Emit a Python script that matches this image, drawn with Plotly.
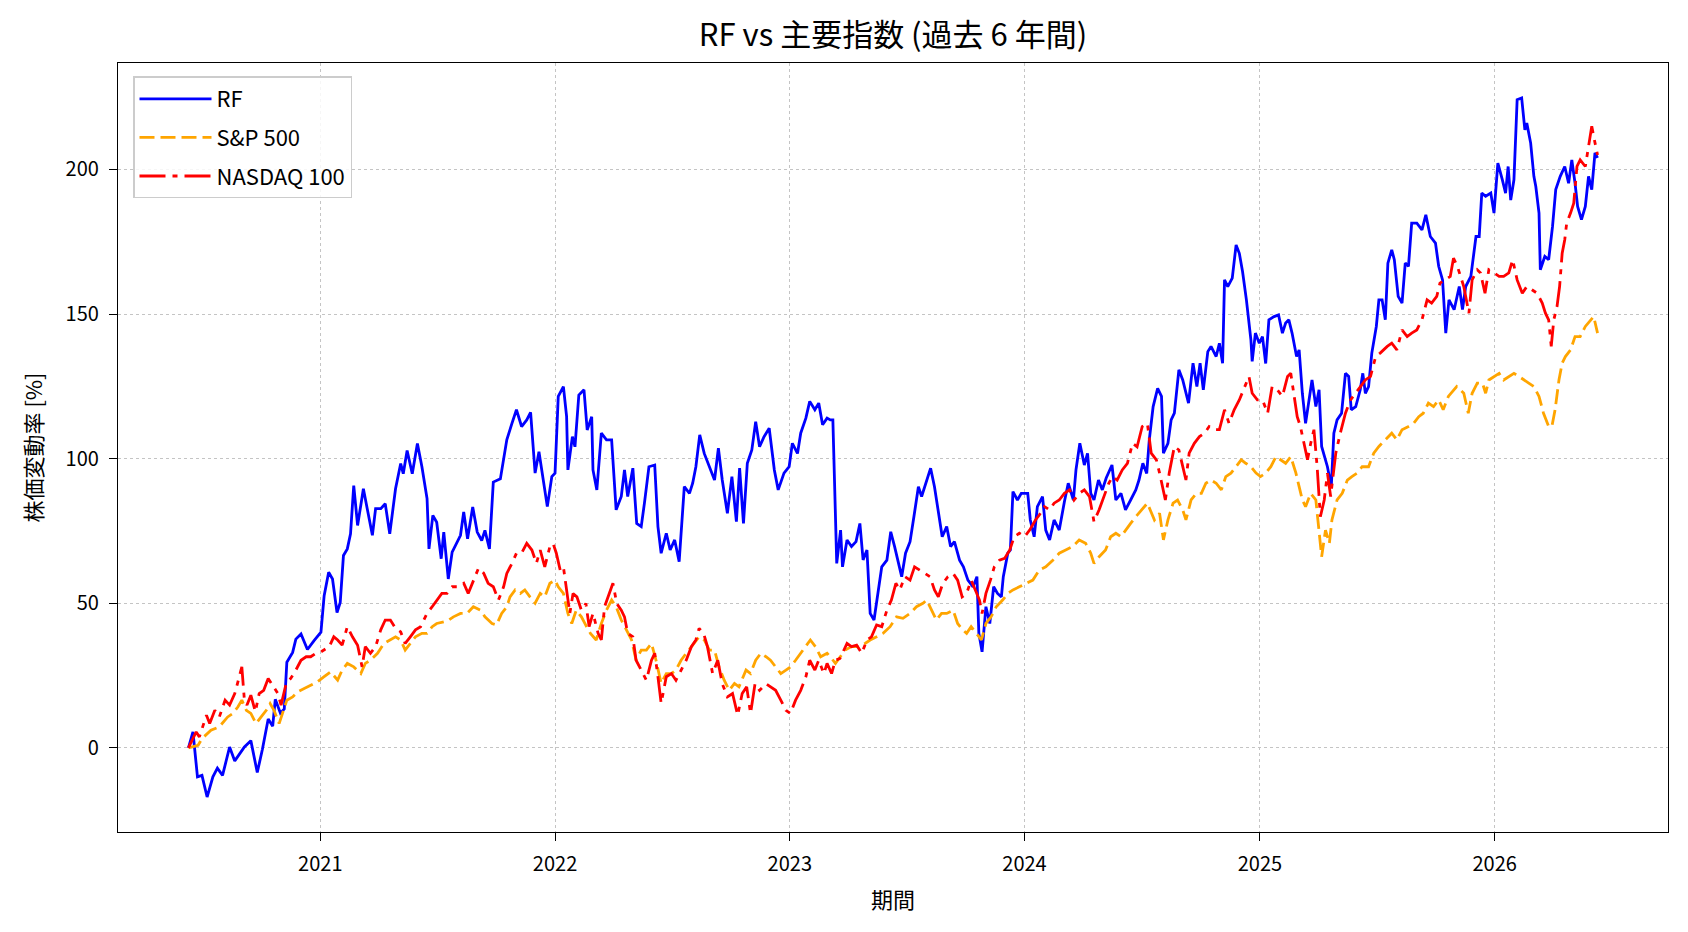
import plotly.graph_objects as go
import pandas as pd

# ---------------- data (percent change since start) ----------------
rf_dates = [
"2020-06-10","2020-06-17","2020-06-24","2020-07-01","2020-07-09","2020-07-18","2020-07-25","2020-08-02","2020-08-13","2020-08-21",
"2020-09-05","2020-09-15","2020-09-25","2020-10-03","2020-10-12","2020-10-19","2020-10-23","2020-10-31","2020-11-06","2020-11-10",
"2020-11-19","2020-11-24","2020-12-02","2020-12-12","2020-12-22","2021-01-02","2021-01-07","2021-01-14","2021-01-20","2021-01-27",
"2021-02-01","2021-02-06","2021-02-12","2021-02-17","2021-02-22","2021-02-28","2021-03-05","2021-03-09","2021-03-15","2021-03-23",
"2021-03-28","2021-04-05","2021-04-12","2021-04-19","2021-04-28","2021-05-06","2021-05-10","2021-05-16","2021-05-24","2021-06-01",
"2021-06-08","2021-06-16","2021-06-19","2021-06-25","2021-07-01","2021-07-08","2021-07-12","2021-07-19","2021-07-25","2021-08-02",
"2021-08-07","2021-08-12","2021-08-18","2021-08-26","2021-09-02","2021-09-09","2021-09-14","2021-09-21","2021-09-27","2021-10-08",
"2021-10-18","2021-10-26","2021-11-02","2021-11-10","2021-11-18","2021-11-24","2021-12-01","2021-12-07","2021-12-14","2021-12-20",
"2021-12-27","2022-01-01","2022-01-06","2022-01-14","2022-01-19","2022-01-21","2022-01-28","2022-02-01","2022-02-07","2022-02-15",
"2022-02-20","2022-02-27","2022-03-01","2022-03-07","2022-03-14","2022-03-22","2022-03-30","2022-04-04","2022-04-06","2022-04-14",
"2022-04-19","2022-04-24","2022-05-02","2022-05-08","2022-05-15","2022-05-20","2022-05-27","2022-06-05","2022-06-10","2022-06-15",
"2022-06-23","2022-06-29","2022-07-06","2022-07-13","2022-07-21","2022-07-29","2022-08-03","2022-08-08","2022-08-14","2022-08-21",
"2022-08-29","2022-09-06","2022-09-12","2022-09-18","2022-09-26","2022-10-03","2022-10-10","2022-10-15","2022-10-21","2022-10-27",
"2022-11-03","2022-11-09","2022-11-15","2022-11-22","2022-11-30","2022-12-08","2022-12-14","2022-12-23","2022-12-31","2023-01-05",
"2023-01-13","2023-01-18","2023-01-26","2023-02-01","2023-02-09","2023-02-15","2023-02-21","2023-02-28","2023-03-05","2023-03-09",
"2023-03-15","2023-03-21","2023-03-24","2023-03-31","2023-04-07","2023-04-14","2023-04-20","2023-04-25","2023-05-01","2023-05-06",
"2023-05-12","2023-05-19","2023-05-24","2023-06-01","2023-06-07","2023-06-13","2023-06-24","2023-06-30","2023-07-07","2023-07-13",
"2023-07-20","2023-07-25","2023-07-31","2023-08-08","2023-08-14","2023-08-20","2023-08-26","2023-09-02","2023-09-08","2023-09-14",
"2023-09-22","2023-09-28","2023-10-05","2023-10-13","2023-10-19","2023-10-22","2023-10-27","2023-11-02","2023-11-08","2023-11-14",
"2023-11-20","2023-11-26","2023-11-29","2023-12-06","2023-12-10","2023-12-14","2023-12-21","2023-12-27","2024-01-06","2024-01-10",
"2024-01-16","2024-01-21","2024-01-29","2024-02-03","2024-02-09","2024-02-16","2024-02-24","2024-03-03","2024-03-09","2024-03-17",
"2024-03-21","2024-03-27","2024-04-03","2024-04-08","2024-04-13","2024-04-18","2024-04-25","2024-05-01","2024-05-07","2024-05-16",
"2024-05-22","2024-05-30","2024-06-06","2024-06-14","2024-06-22","2024-06-27","2024-07-03","2024-07-09","2024-07-13","2024-07-19",
"2024-07-26","2024-08-01","2024-08-04","2024-08-11","2024-08-16","2024-08-21","2024-08-28","2024-09-03","2024-09-12","2024-09-19",
"2024-09-25","2024-09-30","2024-10-05","2024-10-12","2024-10-17","2024-10-25","2024-10-30","2024-11-04","2024-11-07","2024-11-12",
"2024-11-19","2024-11-25","2024-11-30","2024-12-05","2024-12-11","2024-12-18","2024-12-20","2024-12-25","2024-12-31","2025-01-05",
"2025-01-10","2025-01-15","2025-01-23","2025-01-30","2025-02-05","2025-02-10","2025-02-15","2025-02-20","2025-02-27","2025-03-03",
"2025-03-08","2025-03-13","2025-03-18","2025-03-23","2025-03-29","2025-04-03","2025-04-07","2025-04-11","2025-04-16","2025-04-22",
"2025-04-26","2025-05-01","2025-05-08","2025-05-14","2025-05-19","2025-05-23","2025-05-30","2025-06-06","2025-06-10","2025-06-14",
"2025-06-19","2025-06-24","2025-07-01","2025-07-05","2025-07-10","2025-07-15","2025-07-19","2025-07-25","2025-07-29","2025-08-04",
"2025-08-10","2025-08-15","2025-08-20","2025-08-25","2025-09-02","2025-09-10","2025-09-16","2025-09-23","2025-10-01","2025-10-06",
"2025-10-12","2025-10-17","2025-10-22","2025-10-30","2025-11-07","2025-11-12","2025-11-17","2025-11-25","2025-12-03","2025-12-08",
"2025-12-12","2025-12-18","2025-12-26","2025-12-31","2026-01-06","2026-01-13","2026-01-18","2026-01-22","2026-01-26","2026-01-31",
"2026-02-05","2026-02-12","2026-02-17","2026-02-20","2026-02-26","2026-03-03","2026-03-06","2026-03-11","2026-03-13","2026-03-20",
"2026-03-26","2026-04-01","2026-04-06","2026-04-13","2026-04-20","2026-04-26","2026-05-01","2026-05-06","2026-05-10","2026-05-16",
"2026-05-22","2026-05-27","2026-06-01","2026-06-06","2026-06-10",
]
rf_values = [
0,5.5,-10,-9.5,-17,-10,-7,-9.5,0.3,-4.5,
0.3,2.5,-8.5,-0.5,10,7.5,16.8,12,13.5,29.6,
33,37.6,39.4,34,37,40,52.6,60.7,58.4,46.8,
50.3,66.5,68.8,74,90.7,76.9,83.9,89.6,82.7,73.5,
82.7,82.7,84.4,74,89.6,98.3,94.8,102.8,94.8,105.2,
97.2,86.2,68.8,80.4,78,65.4,74.6,58.4,67.7,71.2,
73.5,81.6,72.3,83.3,74.6,71.7,75.2,68.8,91.9,93,
106.5,112.2,116.9,111.1,113.4,116,95,102.4,91.5,83.4,
93.8,95,121.5,124.9,114.5,96.1,107.6,104.1,122,123.8,
109.9,114.5,96.1,89.2,108.8,106.5,106.5,91.5,82.3,86.9,
96.1,86.9,96.7,77.6,76.5,84.6,97.2,97.8,76.5,67.3,
74.2,68.4,71.9,64.4,90.3,88,91.5,97.2,108.2,101.8,
97.2,92.6,103.6,92.6,81.1,93.8,78.2,96.7,77.6,98.4,
103,112.8,104.1,107.6,110.5,96.1,89.2,95,97.2,105.3,
101.8,108.8,114,119.8,116.9,119.2,111.7,114,113.4,113.4,
63.8,75.3,62.6,71.9,69.6,71.3,77.6,65,68.4,46.5,
44.2,55.7,62.6,64.9,74.7,69.6,59.2,67.3,71.3,79.9,
90.3,86.9,91.5,96.7,90.3,82.3,73,76.5,69.6,71.3,
64.9,62.6,58,55.7,59.2,39.6,33.2,48.8,43,55.7,
53.4,52.2,59.2,67.3,68.4,88.6,85.7,88,88,78.8,
73,83.4,86.9,75.3,71.9,78.8,75.3,85.1,91.5,85.7,
96.1,105.3,97.8,101.8,88,85.7,92.6,89.2,93.3,97.8,
85.7,88,82.3,85.7,89.2,92.6,98.4,94.9,106.5,118,
124.3,121.5,101.9,105.3,113.4,115.7,130.7,127.2,119.2,133,
124.9,133,123.8,137,138.8,135.3,139.9,133,161.8,159.5,
162.4,173.9,171,164.7,154.9,141.1,133.6,143.4,139.9,142.2,
132.9,148,149.1,149.7,143.4,146.9,148,143.4,135.3,137.6,
122.6,112.2,120.3,127.2,118,123.8,104.2,100.7,97.2,90.3,
108.8,113.4,115.7,129.5,128.4,116.9,118,123.8,129.5,122.6,
124.9,136.5,145.7,154.9,154.9,148,167.6,172.2,168.8,156.1,
153.8,167.6,166.5,181.4,181.4,179.1,184.3,176.8,174.5,166.5,
161.8,143.4,154.9,151.5,159.5,151.5,159.5,163,176.8,176.8,
191.8,190.7,191.8,184.9,202.2,196.4,191.8,201,189.4,196.4,
224.1,224.7,213.7,216,209.1,197.6,194.1,184.9,165.3,169.9,
168.8,180.3,193,197.6,201,195.2,203.3,195.2,187.2,182.6,
187.2,197.6,193,205.7,204,
]

sp_dates = [
"2020-06-10","2020-06-25","2020-07-01","2020-07-15","2020-07-28","2020-08-10","2020-08-18","2020-08-26","2020-09-01","2020-09-08",
"2020-09-15","2020-09-23","2020-10-01","2020-10-09","2020-10-15","2020-10-21","2020-10-29","2020-11-03","2020-11-10","2020-11-19",
"2020-11-27","2020-12-07","2020-12-17","2020-12-28","2021-01-07","2021-01-17","2021-01-28","2021-02-04","2021-02-12","2021-02-22",
"2021-03-05","2021-03-12","2021-03-20","2021-03-31","2021-04-10","2021-04-20","2021-04-28","2021-05-06","2021-05-13","2021-05-21",
"2021-05-29","2021-06-08","2021-06-16","2021-06-24","2021-07-01","2021-07-12","2021-07-20","2021-07-27","2021-08-07","2021-08-17",
"2021-08-27","2021-09-07","2021-09-14","2021-09-25","2021-10-02","2021-10-10","2021-10-18","2021-10-23","2021-10-31","2021-11-08",
"2021-11-15","2021-11-23","2021-12-01","2021-12-09","2021-12-16","2021-12-24","2022-01-01","2022-01-06","2022-01-14","2022-01-21",
"2022-01-27","2022-02-03","2022-02-11","2022-02-19","2022-02-25","2022-03-06","2022-03-14","2022-03-22","2022-03-30","2022-04-06",
"2022-04-14","2022-04-22","2022-04-30","2022-05-07","2022-05-15","2022-05-23","2022-05-31","2022-06-07","2022-06-15","2022-06-23",
"2022-07-01","2022-07-08","2022-07-16","2022-07-24","2022-08-01","2022-08-08","2022-08-13","2022-08-21","2022-08-29","2022-09-06",
"2022-09-13","2022-09-21","2022-09-29","2022-10-07","2022-10-14","2022-10-25","2022-11-01","2022-11-09","2022-11-17","2022-11-25",
"2022-12-02","2022-12-10","2022-12-18","2022-12-26","2023-01-02","2023-01-10","2023-01-18","2023-01-26","2023-02-02","2023-02-10",
"2023-02-18","2023-02-28","2023-03-05","2023-03-13","2023-03-20","2023-03-28","2023-04-07","2023-04-18","2023-04-28","2023-05-06",
"2023-05-16","2023-05-26","2023-06-06","2023-06-16","2023-06-26","2023-07-07","2023-07-17","2023-07-27","2023-08-02","2023-08-09",
"2023-08-17","2023-08-25","2023-09-02","2023-09-12","2023-09-19","2023-09-27","2023-10-03","2023-10-10","2023-10-18","2023-10-26",
"2023-11-02","2023-11-10","2023-11-18","2023-11-28","2023-12-06","2023-12-14","2023-12-24","2024-01-03","2024-01-14","2024-01-24",
"2024-02-03","2024-02-14","2024-02-24","2024-03-05","2024-03-16","2024-03-26","2024-04-05","2024-04-13","2024-04-18","2024-04-26",
"2024-05-06","2024-05-14","2024-05-22","2024-05-30","2024-06-06","2024-06-14","2024-06-22","2024-07-02","2024-07-10","2024-07-21",
"2024-07-29","2024-08-04","2024-08-11","2024-08-19","2024-08-26","2024-09-03","2024-09-08","2024-09-16","2024-09-24","2024-10-02",
"2024-10-09","2024-10-17","2024-10-25","2024-11-02","2024-11-09","2024-11-17","2024-11-25","2024-12-03","2024-12-10","2024-12-18",
"2024-12-26","2025-01-02","2025-01-10","2025-01-18","2025-01-26","2025-02-02","2025-02-10","2025-02-18","2025-02-26","2025-03-03",
"2025-03-08","2025-03-13","2025-03-21","2025-03-29","2025-04-03","2025-04-07","2025-04-13","2025-04-19","2025-04-23","2025-05-01",
"2025-05-09","2025-05-17","2025-05-24","2025-06-01","2025-06-09","2025-06-19","2025-06-27","2025-07-05","2025-07-15","2025-07-25",
"2025-08-02","2025-08-10","2025-08-20","2025-08-28","2025-09-05","2025-09-12","2025-09-20","2025-09-28","2025-10-06","2025-10-13",
"2025-10-21","2025-10-29","2025-11-03","2025-11-14","2025-11-21","2025-11-27","2025-12-05","2025-12-13","2025-12-18","2025-12-23",
"2025-12-31","2026-01-08","2026-01-15","2026-01-23","2026-01-31","2026-02-08","2026-02-15","2026-02-23","2026-03-03","2026-03-11",
"2026-03-18","2026-03-26","2026-03-31","2026-04-05","2026-04-11","2026-04-16","2026-04-21","2026-04-29","2026-05-06","2026-05-14",
"2026-05-22","2026-05-30","2026-06-04","2026-06-10",
]
sp_values = [
0,0.9,3.2,6.1,7.3,10.7,11.9,14.2,16.5,13,
11.9,8.4,10.7,13,15.3,13,8.4,11.9,16.5,17.6,
19.4,20.5,21.7,22.9,24.6,26.3,23.4,26.9,29.2,28,
25.7,29.2,30.3,32.7,36.1,37.3,38.4,37.3,33.8,36.1,
38.4,39.6,39.6,41.9,43,43.6,44.2,45.3,46.5,46.5,
48.8,47.6,45.3,43,42.5,46.5,48.8,52.2,54.6,53.4,
54.6,52.2,50,53.4,52.2,56.9,58,55.7,53.4,46.5,
43,47.6,45.3,41.9,39.6,37.3,43,47.6,51.1,48.8,
44.2,40.8,37.3,30.3,33.8,33.8,36.1,30.3,22.3,25.7,
25.7,26.9,30.3,32.7,35,37.3,38.4,37.3,33.8,33.8,
28,23.4,19.9,22.3,21.1,26.9,25.7,30.3,32.7,31.5,
30.3,28,25.7,26.9,28,30.3,32.7,35,37.3,35,
31.5,32.7,31.5,29.2,31.5,33.8,35,35,36.1,37.3,
38.4,39.6,41.9,45.3,44.8,46.5,48.8,50,51.1,47.6,
44.2,46.5,46.5,47.6,43,40.8,39.6,41.9,39.6,37.3,
43,45.3,48.8,51.1,53.4,54.6,55.7,56.9,58,61.5,
62.6,64.9,67.3,68.4,69.6,71.9,70.7,67.3,63.8,66.1,
68.4,73,74.2,73,75.3,77.6,79.9,82.3,84.6,78.8,
81.1,71.9,78.8,84.6,85.7,82.3,78.8,85.7,88,88,
91.5,92.6,91.5,89.2,93.8,95,97.2,99.6,98.4,97.2,
95,93.8,95,97.2,100.7,99.6,98.4,100.7,95,90.3,
85.7,83.4,88,85.7,74.2,66.1,75.3,70.7,78.8,85.7,
88,92.6,93.8,95,97.2,97.2,101.9,104.2,106.5,108.8,
106.5,110,111.1,112.2,114.5,115.7,119.2,118,120.3,116.9,
121.5,123.8,124.9,122.6,115.7,122.6,126.1,126.1,122.6,127.2,
128.4,129.5,127.2,128.4,129.5,128.4,127.2,126.1,124.9,121.5,
115.7,111.1,111.1,116.9,127.2,133,135.3,137.6,142.2,142.2,
145.7,148,149.1,143.4,
]

nq_dates = [
"2020-06-10","2020-06-22","2020-06-27","2020-07-08","2020-07-13","2020-07-21","2020-07-28","2020-08-06","2020-08-13","2020-08-21",
"2020-08-26","2020-09-01","2020-09-05","2020-09-09","2020-09-15","2020-09-22","2020-09-28","2020-10-05","2020-10-12","2020-10-19",
"2020-10-27","2020-11-01","2020-11-09","2020-11-16","2020-11-24","2020-12-02","2020-12-10","2020-12-17","2020-12-25","2021-01-02",
"2021-01-15","2021-01-22","2021-01-28","2021-02-04","2021-02-12","2021-02-20","2021-02-28","2021-03-07","2021-03-12","2021-03-20",
"2021-03-28","2021-04-05","2021-04-12","2021-04-20","2021-04-28","2021-05-06","2021-05-13","2021-05-21","2021-05-29","2021-06-06",
"2021-06-16","2021-06-24","2021-07-01","2021-07-09","2021-07-17","2021-07-25","2021-08-02","2021-08-12","2021-08-19","2021-08-27",
"2021-09-04","2021-09-12","2021-09-19","2021-09-27","2021-10-05","2021-10-13","2021-10-18","2021-10-26","2021-11-02","2021-11-10",
"2021-11-18","2021-11-26","2021-12-03","2021-12-09","2021-12-16","2021-12-24","2021-12-29","2022-01-03","2022-01-09","2022-01-14",
"2022-01-19","2022-01-24","2022-01-29","2022-02-04","2022-02-11","2022-02-18","2022-02-23","2022-03-01","2022-03-09","2022-03-14",
"2022-03-19","2022-03-27","2022-04-01","2022-04-07","2022-04-14","2022-04-19","2022-04-24","2022-05-02","2022-05-07","2022-05-15",
"2022-05-23","2022-05-31","2022-06-05","2022-06-10","2022-06-15","2022-06-23","2022-07-01","2022-07-08","2022-07-16","2022-07-24",
"2022-08-01","2022-08-08","2022-08-13","2022-08-20","2022-08-26","2022-09-03","2022-09-11","2022-09-18","2022-09-26","2022-10-04",
"2022-10-12","2022-10-19","2022-10-26","2022-11-01","2022-11-08","2022-11-15","2022-11-25","2022-12-02","2022-12-10","2022-12-18",
"2022-12-26","2023-01-02","2023-01-10","2023-01-18","2023-01-26","2023-02-01","2023-02-09","2023-02-15","2023-02-23","2023-02-28",
"2023-03-07","2023-03-13","2023-03-20","2023-03-31","2023-04-07","2023-04-15","2023-04-23","2023-05-01","2023-05-08","2023-05-16",
"2023-05-24","2023-06-01","2023-06-08","2023-06-15","2023-06-21","2023-06-29","2023-07-07","2023-07-14","2023-07-22","2023-07-30",
"2023-08-07","2023-08-14","2023-08-20","2023-08-27","2023-09-04","2023-09-12","2023-09-19","2023-09-26","2023-10-03","2023-10-10",
"2023-10-17","2023-10-23","2023-10-27","2023-11-02","2023-11-09","2023-11-15","2023-11-23","2023-12-01","2023-12-09","2023-12-16",
"2023-12-24","2024-01-01","2024-01-09","2024-01-18","2024-01-24","2024-02-01","2024-02-09","2024-02-16","2024-02-24","2024-03-03",
"2024-03-11","2024-03-18","2024-03-26","2024-04-03","2024-04-11","2024-04-18","2024-04-26","2024-05-04","2024-05-11","2024-05-17",
"2024-05-24","2024-06-01","2024-06-09","2024-06-17","2024-06-24","2024-07-02","2024-07-10","2024-07-16","2024-07-24","2024-07-29",
"2024-08-03","2024-08-07","2024-08-13","2024-08-21","2024-08-28","2024-09-03","2024-09-08","2024-09-13","2024-09-21","2024-09-29",
"2024-10-07","2024-10-14","2024-10-22","2024-10-30","2024-11-07","2024-11-14","2024-11-22","2024-11-30","2024-12-08","2024-12-15",
"2024-12-20","2024-12-28","2025-01-05","2025-01-13","2025-01-20","2025-01-28","2025-02-05","2025-02-13","2025-02-18","2025-02-23",
"2025-02-28","2025-03-05","2025-03-11","2025-03-16","2025-03-21","2025-03-26","2025-03-31","2025-04-05","2025-04-11","2025-04-16",
"2025-04-21","2025-04-29","2025-05-06","2025-05-14","2025-05-22","2025-05-30","2025-06-06","2025-06-14","2025-06-22","2025-06-30",
"2025-07-07","2025-07-18","2025-07-25","2025-08-02","2025-08-10","2025-08-18","2025-08-25","2025-09-02","2025-09-10","2025-09-18",
"2025-09-25","2025-10-03","2025-10-08","2025-10-16","2025-10-24","2025-10-29","2025-11-04","2025-11-09","2025-11-14","2025-11-22",
"2025-11-27","2025-12-05","2025-12-10","2025-12-17","2025-12-23","2025-12-31","2026-01-08","2026-01-15","2026-01-23","2026-01-29",
"2026-02-05","2026-02-13","2026-02-20","2026-02-28","2026-03-08","2026-03-16","2026-03-21","2026-03-26","2026-03-30","2026-04-03",
"2026-04-08","2026-04-12","2026-04-16","2026-04-20","2026-04-23","2026-04-29","2026-05-04","2026-05-09","2026-05-14","2026-05-22",
"2026-05-27","2026-06-01","2026-06-05","2026-06-10",
]
nq_values = [
0,5.5,3.8,11.3,8.4,13,10.7,16.5,14.8,18.8,
22.9,28,16.5,14.8,18.2,12.5,18.8,19.9,24,21.7,
18.8,14.8,22.3,24,26.9,30.3,31.5,31.5,32.7,33.2,
35,38.4,37.3,35.5,41.9,38.4,35.5,28,35,32.7,
35,40.8,44.2,44.2,41.3,40.1,36.1,38.4,40.8,41.9,
46.5,48.8,51.1,53.4,53.4,55.7,55.7,56.9,53.4,58,
62.1,60.4,56.9,55.7,51.1,55.7,60.3,63.8,67.3,67.3,
70.7,68.4,63.8,68.4,62.6,69.6,70.7,67.3,61.5,62.6,
54.6,46.5,53.4,52.2,47.6,49.9,41.9,46.5,39.6,37.3,
48.8,53.4,56.9,49.9,47.6,45.3,39.6,38.4,30.3,26.9,
23.4,30.3,32.7,24.6,15.4,24.6,25.7,23.4,26.9,30.3,
35,37.3,41.3,39.6,35,25.7,30.3,22.2,17.6,18.8,
11.3,18.8,21.1,11.9,22.2,19.9,22.2,21.1,19.9,16.5,
13,11.9,16.5,19.9,24.6,30.3,26.9,30.3,25.7,29.2,
25.7,30.3,30.9,36.1,35,35.5,32.7,37.3,38.4,42.5,
41.9,47.6,51.1,56.9,54.6,59.2,58,62.6,61.5,60.3,
59.2,54.6,52.2,56.9,59.2,60.3,58,52.2,53.4,58,
54.6,51.1,46.5,53.4,58,62.6,64.9,65.5,68.4,73,
74.2,73,75.3,78.8,80.5,83.4,82.3,84.6,85.7,88,
89.2,85.7,88,89.2,86.9,78.2,82.3,86.9,91.5,93.8,
92.6,96.1,98.4,105.3,104.1,111.1,112.2,101.9,99.6,95,
89.2,85.7,95,104.2,103,97.2,92.6,101.9,105.3,107.6,
108.8,111.1,110,110,116.9,112.2,116.9,120.3,124.9,128.4,
122.6,120.3,120.3,115.7,124.9,123.8,121.5,128.4,129.5,122.6,
114.5,111.1,104.2,99.6,105.3,110,97.2,79.9,85.7,95,
86.9,101.9,108.8,115.7,120.3,122.6,124.9,127.2,128.4,135.3,
136.5,138.8,139.9,137.6,144.5,142.2,143.4,144.5,148,154.9,
153.8,156.1,160.7,161.8,163,169.3,166.5,163,159.5,150.3,
161.8,165.3,164.2,157.2,165.3,164.2,163,163,164.2,168.8,
161.8,157.2,159.5,158.4,157.2,153.8,150.3,148,138.8,148,
152.6,159.5,171,175.7,181.4,184.9,188.3,201,203.3,201,
207.9,214.9,210.3,205,
]

year_ticks = ["2021-01-01", "2022-01-01", "2023-01-01", "2024-01-01", "2025-01-01", "2026-01-01"]
year_labels = ["2021", "2022", "2023", "2024", "2025", "2026"]
y_ticks = [0, 50, 100, 150, 200]

FONT = "Noto Sans CJK JP"

# matplotlib-like 5% margins
all_d = pd.to_datetime(rf_dates + sp_dates + nq_dates)
dmin, dmax = all_d.min(), all_d.max()
dpad = (dmax - dmin) * 0.05
all_v = rf_values + sp_values + nq_values
vmin, vmax = min(all_v), max(all_v)
vpad = (vmax - vmin) * 0.05

fig = go.Figure()
fig.add_trace(go.Scatter(x=rf_dates, y=rf_values, mode="lines", name="RF", legendgroup="g1",
                         line=dict(color="#0000ff", width=2.8)))
fig.add_trace(go.Scatter(x=sp_dates, y=sp_values, mode="lines", name="S&P 500", legendgroup="g2",
                         line=dict(color="#ffa500", width=2.8, dash="15px,6px")))
fig.add_trace(go.Scatter(x=nq_dates, y=nq_values, mode="lines", name="NASDAQ 100", legendgroup="g3",
                         line=dict(color="#ff0000", width=2.8, dash="26px,7px,5px,7px")))

axis_common = dict(
    showline=True, linecolor="black", linewidth=1.3, mirror=True,
    ticks="outside", ticklen=8, tickwidth=1.3, tickcolor="black",
    showgrid=True, gridcolor="#c4c4c4", gridwidth=1, griddash="dot",
    zeroline=False, tickfont=dict(family=FONT, size=20, color="black"),
)

fig.update_layout(
    width=1688, height=932,
    margin=dict(l=118, r=20, t=63, b=100),
    paper_bgcolor="white", plot_bgcolor="white",
    font=dict(family=FONT, color="black"),
    title=dict(text="RF vs 主要指数 (過去 6 年間)", x=0.5, xref="paper", xanchor="center",
               y=1 - 35 / 932, yref="container", yanchor="middle",
               font=dict(family=FONT, size=31, color="black")),
    xaxis=dict(type="date", range=[dmin - dpad, dmax + dpad],
               tickvals=year_ticks, ticktext=year_labels, ticklabelstandoff=6,
               title=dict(text="期間", font=dict(family=FONT, size=22), standoff=16),
               **axis_common),
    yaxis=dict(range=[vmin - vpad, vmax + vpad], tickvals=y_ticks,
               ticklabelstandoff=6,
               title=dict(text="株価変動率 [%]", font=dict(family=FONT, size=22), standoff=16),
               **axis_common),
    legend=dict(x=(133 - 118) / 1550, y=(832 - 76) / 769.5, xanchor="left", yanchor="top",
                bgcolor="rgba(255,255,255,0.85)", bordercolor="#cccccc", borderwidth=1.5,
                font=dict(family=FONT, size=22, color="black"),
                tracegroupgap=7, itemwidth=72),
    showlegend=True,
)

fig.write_html("out.html")
